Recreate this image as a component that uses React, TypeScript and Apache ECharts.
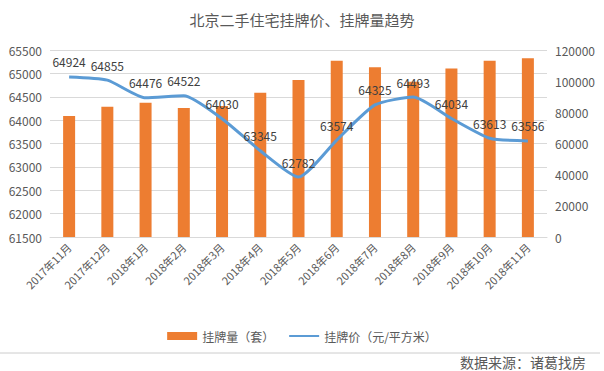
import React, { useEffect, useRef } from "react";
import * as echarts from "echarts";

const categories = [
  "2017年11月", "2017年12月", "2018年1月", "2018年2月", "2018年3月", "2018年4月",
  "2018年5月", "2018年6月", "2018年7月", "2018年8月", "2018年9月", "2018年10月", "2018年11月",
];
const listingCount = [77600, 83600, 86200, 82800, 84100, 92600, 100700, 113100, 108900, 99700, 108200, 113100, 114700];
const listingPrice = [64924, 64855, 64476, 64522, 64030, 63345, 62782, 63574, 64325, 64493, 64034, 63613, 63556];
const titleText = "北京二手住宅挂牌价、挂牌量趋势";
const barName = "挂牌量（套）";
const lineName = "挂牌价（元/平方米）";
const sourceText = "数据来源：诸葛找房";

const FONT = "'Noto Sans CJK SC', 'Noto Sans', sans-serif";

export default function App() {
  const ref = useRef<HTMLDivElement>(null);
  useEffect(() => {
    if (!ref.current) return;
    const chart = echarts.init(ref.current, undefined, { renderer: "svg" });
    chart.setOption({
      animation: false,
      backgroundColor: "#ffffff",
      textStyle: { fontFamily: FONT },
      title: {
        text: titleText,
        left: "center",
        top: 7,
        textStyle: { fontSize: 15, fontWeight: "normal", color: "#595959", fontFamily: FONT },
      },
      grid: { left: 50, right: 57, top: 50, bottom: 134, containLabel: false },
      legend: {
        left: "center",
        top: 325,
        itemWidth: 30,
        itemHeight: 8,
        itemGap: 14,
        textStyle: { fontSize: 12, color: "#595959", fontFamily: FONT },
        data: [
          { name: barName, icon: "rect" },
          { name: lineName, itemStyle: { opacity: 0 } },
        ],
      },
      xAxis: {
        type: "category",
        data: categories,
        axisTick: { show: false },
        axisLine: { lineStyle: { color: "#d9d9d9" } },
        axisLabel: { interval: 0, rotate: 45, fontSize: 11, color: "#595959", margin: 8 },
      },
      yAxis: [
        {
          type: "value",
          min: 61500,
          max: 65500,
          interval: 500,
          axisLine: { show: false },
          axisTick: { show: false },
          splitLine: { lineStyle: { color: "#d9d9d9" } },
          axisLabel: { fontSize: 12, color: "#595959", margin: 8, formatter: (v: number) => String(v) },
        },
        {
          type: "value",
          min: 0,
          max: 120000,
          interval: 20000,
          axisLine: { show: false },
          axisTick: { show: false },
          splitLine: { show: false },
          axisLabel: { fontSize: 12, color: "#595959", margin: 8, formatter: (v: number) => String(v) },
        },
      ],
      series: [
        {
          name: barName,
          type: "bar",
          yAxisIndex: 1,
          data: listingCount,
          barWidth: 12,
          itemStyle: { color: "#ED7D31" },
        },
        {
          name: lineName,
          type: "line",
          yAxisIndex: 0,
          data: listingPrice,
          smooth: 0.2,
          symbol: "circle",
          symbolSize: 0,
          showSymbol: true,
          lineStyle: { color: "#5B9BD5", width: 3 },
          itemStyle: { color: "#5B9BD5" },
          label: {
            show: true,
            position: "top",
            distance: 9,
            fontSize: 12,
            color: "#404040",
          },
        },
      ],
      graphic: [
        {
          type: "line",
          shape: { x1: 0, y1: 353, x2: 600, y2: 353 },
          style: { stroke: "#cccccc", lineWidth: 1 },
        },
        {
          type: "text",
          right: 18,
          top: 355,
          style: { text: sourceText, fontSize: 14, fill: "#595959", fontFamily: FONT },
        },
      ],
    });
    return () => chart.dispose();
  }, []);
  return (
    <div
      ref={ref}
      style={{ position: "fixed", left: 0, top: 0, width: 604, height: 371 }}
    />
  );
}
